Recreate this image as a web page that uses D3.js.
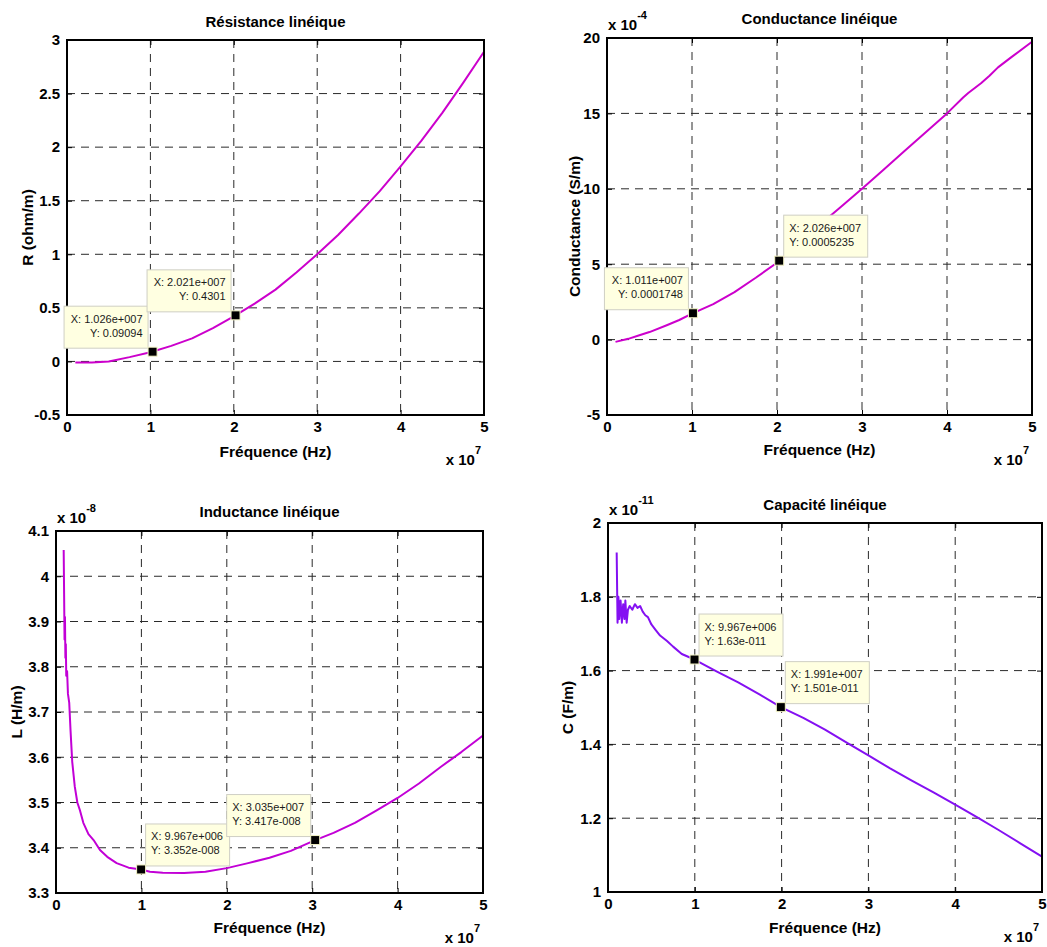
<!DOCTYPE html>
<html>
<head>
<meta charset="utf-8">
<script src="https://cdn.jsdelivr.net/npm/d3@7"></script>
<style>
  body { margin: 0; background: #fff; }
  svg { display: block; }
</style>
</head>
<body>
<svg id="fig" width="1047" height="947"></svg>
<script>
// ---- Data -----------------------------------------------------------------
// Frequencies are in units of 1e7 Hz (the axis multiplier "x 10^7").

const xTicks = [0, 1, 2, 3, 4, 5];

// Linear resistance R (ohm/m)
const rFreq = [0.1, 0.3, 0.5, 0.75, 1.0, 1.25, 1.5, 1.75, 2.0, 2.25, 2.5, 2.75,
               3.0, 3.25, 3.5, 3.75, 4.0, 4.25, 4.5, 4.75, 5.0];
const rVal  = [-0.01, -0.01, 0.0, 0.04, 0.085, 0.145, 0.215, 0.31, 0.42, 0.54, 0.67, 0.83,
               1.0, 1.18, 1.38, 1.59, 1.82, 2.06, 2.32, 2.60, 2.89];
const rTicks = [-0.5, 0, 0.5, 1, 1.5, 2, 2.5, 3];
const rTips = [{ x: 1.026e7, y: 0.09094 }, { x: 2.021e7, y: 0.4301 }];

// Linear conductance G (units of 1e-4 S/m)
const gFreq = [0.1, 0.25, 0.39, 0.5, 0.71, 0.85, 1.0, 1.25, 1.5, 1.75, 2.0, 2.25, 2.5, 2.75,
               3.0, 3.25, 3.5, 3.75, 4.0, 4.19, 4.25, 4.4, 4.5, 4.6, 4.75, 5.0];
const gVal  = [-0.15, 0.05, 0.3, 0.5, 0.97, 1.3, 1.72, 2.35, 3.15, 4.1, 5.1, 6.35, 7.6, 8.8,
               10.0, 11.25, 12.5, 13.75, 15.0, 16.05, 16.35, 17.0, 17.5, 18.05, 18.7, 19.75];
const gTicks = [-5, 0, 5, 10, 15, 20];
const gTips = [{ x: 1.011e7, y: 0.0001748 }, { x: 2.026e7, y: 0.0005235 }];

// Linear inductance L (units of 1e-8 H/m)
const lFreq = [0.09, 0.095, 0.1, 0.105, 0.11, 0.115, 0.12, 0.13, 0.14, 0.155, 0.17, 0.19,
               0.22, 0.25, 0.28, 0.32, 0.38, 0.44, 0.515, 0.6, 0.71, 0.85, 0.9967, 1.1,
               1.25, 1.5, 1.75, 2.0, 2.25, 2.5, 2.75, 3.035, 3.25, 3.5, 3.75, 4.0, 4.25,
               4.5, 4.75, 5.0];
const lVal  = [4.058, 3.96, 3.86, 3.91, 3.82, 3.85, 3.78, 3.79, 3.74, 3.72, 3.66, 3.59,
               3.535, 3.50, 3.483, 3.455, 3.43, 3.417, 3.395, 3.38, 3.366, 3.356, 3.352, 3.347,
               3.345, 3.344, 3.347, 3.355, 3.366, 3.378, 3.393, 3.417, 3.433, 3.455, 3.482, 3.51, 3.542,
               3.578, 3.612, 3.648];
const lTicks = [3.3, 3.4, 3.5, 3.6, 3.7, 3.8, 3.9, 4, 4.1];
const lTips = [{ x: 9.967e6, y: 3.352e-8 }, { x: 3.035e7, y: 3.417e-8 }];

// Linear capacitance C (units of 1e-11 F/m)
const cFreq = [0.10, 0.11, 0.12, 0.13, 0.145, 0.16, 0.175, 0.19, 0.20, 0.215, 0.23, 0.25,
               0.28, 0.31, 0.34, 0.37, 0.40, 0.43, 0.46, 0.5, 0.55, 0.6, 0.68, 0.75, 0.85,
               0.9967, 1.25, 1.5, 1.75, 1.991, 2.25, 2.5, 2.75, 3.0, 3.25, 3.5, 3.75, 4.0,
               4.25, 4.5, 4.75, 5.0];
const cVal  = [1.92, 1.73, 1.80, 1.74, 1.79, 1.73, 1.78, 1.74, 1.79, 1.73, 1.765, 1.775,
               1.765, 1.78, 1.77, 1.775, 1.76, 1.75, 1.745, 1.725, 1.71, 1.695, 1.68, 1.665, 1.645,
               1.63, 1.598, 1.568, 1.535, 1.501, 1.472, 1.44, 1.405, 1.37, 1.335, 1.302, 1.27, 1.237,
               1.203, 1.168, 1.132, 1.096];
const cTicks = [1, 1.2, 1.4, 1.6, 1.8, 2];
const cTips = [{ x: 9.967e6, y: 1.63e-11 }, { x: 1.991e7, y: 1.501e-11 }];

// ---- Layout / style -------------------------------------------------------
const FONT = '"Liberation Sans", Arial, Helvetica, sans-serif';
const X_UNIT = 1e7;

const panels = [
  { title: "Résistance linéique", ylabel: "R (ohm/m)", freq: rFreq, vals: rVal, yTicks: rTicks,
    tips: rTips, yUnit: 1, yExp: null, color: "#cc00cc",
    left: 67, right: 484, top: 40, bottom: 415,
    titleY: 27, xlabelY: 457, ylabelX: 33,
    tipLayout: [{ side: "left", align: "end" }, { side: "left", align: "end" }] },
  { title: "Conductance linéique", ylabel: "Conductance (S/m)", freq: gFreq, vals: gVal, yTicks: gTicks,
    tips: gTips, yUnit: 1e-4, yExp: "-4", color: "#cc00cc",
    left: 607, right: 1032, top: 38, bottom: 415,
    titleY: 24, xlabelY: 455, ylabelX: 580,
    tipLayout: [{ side: "left", align: "end" }, { side: "right", align: "start" }] },
  { title: "Inductance linéique", ylabel: "L (H/m)", freq: lFreq, vals: lVal, yTicks: lTicks,
    tips: lTips, yUnit: 1e-8, yExp: "-8", color: "#c200d6",
    left: 56, right: 483, top: 531, bottom: 893,
    titleY: 517, xlabelY: 933, ylabelX: 22,
    tipLayout: [{ side: "right", align: "start" }, { side: "left", align: "start" }] },
  { title: "Capacité linéique", ylabel: "C (F/m)", freq: cFreq, vals: cVal, yTicks: cTicks,
    tips: cTips, yUnit: 1e-11, yExp: "-11", color: "#8410f2",
    left: 608, right: 1042, top: 523, bottom: 892,
    titleY: 510, xlabelY: 933, ylabelX: 573,
    tipLayout: [{ side: "right", align: "start" }, { side: "right", align: "start" }] }
];

// MATLAB-style "%.4g" number formatting with three-digit exponents
function fmtG(v) {
  if (v === 0) return "0";
  const e = Math.floor(Math.log10(Math.abs(Number(v.toPrecision(4)))));
  if (e < -4 || e >= 4) {
    let [m, ex] = v.toExponential(3).split("e");
    m = m.replace(/\.?0+$/, "");
    const n = parseInt(ex, 10);
    return m + "e" + (n < 0 ? "-" : "+") + String(Math.abs(n)).padStart(3, "0");
  }
  return String(Number(v.toPrecision(4)));
}

const svg = d3.select("#fig");
svg.append("rect").attr("width", 1047).attr("height", 947).attr("fill", "#fff");

function drawPanel(p) {
  const g = svg.append("g");
  const x = d3.scaleLinear().domain([0, 5]).range([p.left, p.right]);
  const y = d3.scaleLinear().domain(d3.extent(p.yTicks)).range([p.bottom, p.top]);

  // dashed grid
  const gridStyle = sel => sel.attr("stroke", "#2a2a2a").attr("stroke-width", 1)
    .attr("stroke-dasharray", "8,6").attr("fill", "none");
  g.append("g").selectAll("line").data(xTicks.slice(1, -1)).join("line")
    .attr("x1", d => x(d)).attr("x2", d => x(d))
    .attr("y1", p.top).attr("y2", p.bottom).call(gridStyle);
  g.append("g").selectAll("line").data(p.yTicks.slice(1, -1)).join("line")
    .attr("x1", p.left).attr("x2", p.right)
    .attr("y1", d => y(d)).attr("y2", d => y(d)).call(gridStyle);

  // curve
  const line = d3.line().x((d, i) => x(p.freq[i])).y(d => y(d));
  g.append("path").datum(p.vals).attr("d", line)
    .attr("fill", "none").attr("stroke", p.color).attr("stroke-width", 2)
    .attr("stroke-linejoin", "round");

  // axes with inward ticks on all sides
  const styleAxis = sel => {
    sel.select(".domain").remove();
    sel.selectAll(".tick line").attr("stroke", "#000");
    sel.selectAll("text").attr("fill", "#000");
    sel.attr("font-family", FONT).attr("font-size", 15).attr("font-weight", "bold");
  };
  g.append("g").attr("transform", `translate(0,${p.bottom})`)
    .call(d3.axisBottom(x).tickValues(xTicks).tickSize(-5).tickPadding(6).tickFormat(d => String(d)))
    .call(styleAxis);
  g.append("g").attr("transform", `translate(${p.left},0)`)
    .call(d3.axisLeft(y).tickValues(p.yTicks).tickSize(-5).tickPadding(7).tickFormat(d => String(d)))
    .call(styleAxis);
  g.append("g").attr("transform", `translate(0,${p.top})`)
    .call(d3.axisTop(x).tickValues(xTicks).tickSize(-5).tickFormat(""))
    .call(styleAxis);
  g.append("g").attr("transform", `translate(${p.right},0)`)
    .call(d3.axisRight(y).tickValues(p.yTicks).tickSize(-5).tickFormat(""))
    .call(styleAxis);

  // box
  g.append("rect").attr("x", p.left).attr("y", p.top)
    .attr("width", p.right - p.left).attr("height", p.bottom - p.top)
    .attr("fill", "none").attr("stroke", "#000").attr("stroke-width", 2);

  // title and axis labels
  const cx = (p.left + p.right) / 2;
  g.append("text").attr("x", cx).attr("y", p.titleY).attr("text-anchor", "middle")
    .attr("font-family", FONT).attr("font-size", 15).attr("font-weight", "bold").text(p.title);
  g.append("text").attr("x", cx).attr("y", p.xlabelY).attr("text-anchor", "middle")
    .attr("font-family", FONT).attr("font-size", 15.5).attr("font-weight", "bold").text("Fréquence (Hz)");
  g.append("text").attr("transform", `translate(${p.ylabelX},${(p.top + p.bottom) / 2}) rotate(-90)`)
    .attr("text-anchor", "middle")
    .attr("font-family", FONT).attr("font-size", 15.5).attr("font-weight", "bold").text(p.ylabel);

  // x multiplier
  const xe = g.append("text").attr("x", p.right - 3).attr("y", p.bottom + 50).attr("text-anchor", "end")
    .attr("font-family", FONT).attr("font-size", 15).attr("font-weight", "bold");
  xe.append("tspan").text("x 10");
  xe.append("tspan").attr("dy", -11).attr("font-size", 11).text("7");

  // y multiplier
  if (p.yExp) {
    const ye = g.append("text").attr("x", p.left + 1).attr("y", p.top - 8)
      .attr("font-family", FONT).attr("font-size", 15).attr("font-weight", "bold");
    ye.append("tspan").text("x 10");
    ye.append("tspan").attr("dy", -11).attr("font-size", 11).text(p.yExp);
  }

  // data tips
  p.tips.forEach((t, i) => {
    const lay = p.tipLayout[i];
    const mx = x(t.x / X_UNIT), my = y(t.y / p.yUnit);
    const tg = g.append("g");
    const box = tg.append("rect").attr("fill", "#ffffe1").attr("stroke", "#cfcfc4").attr("stroke-width", 1);
    const lines = ["X: " + fmtG(t.x), "Y: " + fmtG(t.y)];
    const texts = lines.map(s => tg.append("text").attr("font-family", FONT)
      .attr("font-size", 11).attr("fill", "#1a1a1a").text(s));
    const w = Math.ceil(d3.max(texts, tx => tx.node().getComputedTextLength())) + 12;
    const h = 42;
    const bx = lay.side === "left" ? mx - 5 - w : mx + 4;
    const by = my - 4 - h;
    box.attr("x", bx + 0.5).attr("y", by + 0.5).attr("width", w).attr("height", h);
    texts.forEach((tx, k) => {
      tx.attr("y", by + 17 + k * 14)
        .attr("x", lay.align === "end" ? bx + w - 5 : bx + 6)
        .attr("text-anchor", lay.align === "end" ? "end" : "start");
    });
    g.append("rect").attr("x", mx - 4.5).attr("y", my - 4.5).attr("width", 9).attr("height", 9)
      .attr("fill", "#000").attr("stroke", "#f4f4c6").attr("stroke-width", 1);
  });
}

panels.forEach(drawPanel);
</script>
</body>
</html>
